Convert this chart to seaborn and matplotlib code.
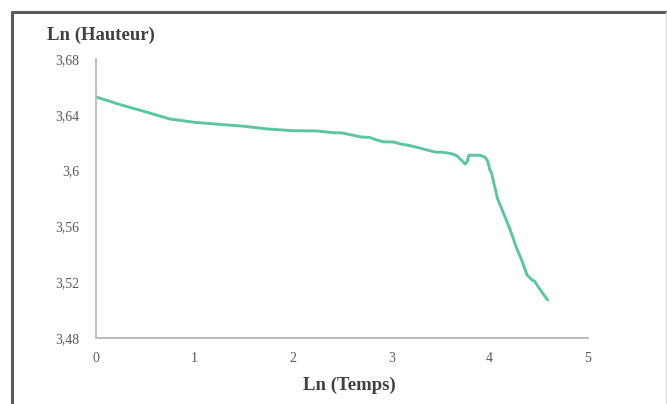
import matplotlib
matplotlib.use("Agg")
import matplotlib.pyplot as plt
import pandas as pd
import seaborn as sns
from matplotlib.lines import Line2D

# values
ln_temps = [0.0, 0.25, 0.5, 0.75, 1.0, 1.25, 1.5, 1.75, 2.0, 2.25, 2.3, 2.4, 2.5,
            2.6, 2.7, 2.78, 2.85, 2.92, 3.02, 3.1, 3.19, 3.3, 3.39, 3.46, 3.5,
            3.57, 3.62, 3.67, 3.72, 3.75, 3.77, 3.79, 3.85, 3.9, 3.95, 3.98,
            4.0, 4.02, 4.05, 4.08, 4.14, 4.21, 4.27, 4.33, 4.38, 4.43, 4.46,
            4.5, 4.55, 4.59]
ln_hauteur = [3.6528, 3.6472, 3.6422, 3.6370, 3.6346, 3.6332, 3.6318, 3.6298,
              3.6286, 3.6284, 3.6280, 3.6272, 3.6270, 3.6255, 3.6240, 3.6238,
              3.6220, 3.6206, 3.6205, 3.6190, 3.6179, 3.6160, 3.6143, 3.6131,
              3.6133, 3.6126, 3.6120, 3.6105, 3.6070, 3.6047, 3.6060, 3.6110,
              3.6110, 3.6110, 3.6098, 3.6070, 3.6010, 3.5980, 3.5890, 3.5800,
              3.5696, 3.5574, 3.5452, 3.5350, 3.5252, 3.5216, 3.5205, 3.5160,
              3.5110, 3.5072]

y_ticks = [3.48, 3.52, 3.56, 3.6, 3.64, 3.68]
y_tick_labels = ["3,48", "3,52", "3,56", "3,6", "3,64", "3,68"]
x_ticks = [0, 1, 2, 3, 4, 5]

df = pd.DataFrame({"Ln (Temps)": ln_temps, "Ln (Hauteur)": ln_hauteur})

sns.set_style("white")
plt.rcParams["font.family"] = ["Liberation Serif", "DejaVu Serif"]

fig = plt.figure(figsize=(6.67, 4.04), dpi=100)
ax = fig.add_axes([0.1439, 0.1634, 0.7377, 0.6906])

sns.lineplot(data=df, x="Ln (Temps)", y="Ln (Hauteur)", ax=ax,
             color="#5cc6a0", linewidth=2.1, estimator=None)

ax.set_xlim(0, 5)
ax.set_ylim(3.48, 3.68)
ax.set_xticks(x_ticks)
ax.set_xticklabels([str(t) for t in x_ticks])
ax.set_yticks(y_ticks)
ax.set_yticklabels(y_tick_labels)
ax.tick_params(axis="both", direction="out", length=4, width=1,
               color="#bfbfbf", labelcolor="#595959", labelsize=10)
ax.tick_params(axis="y", pad=8)
ax.tick_params(axis="x", pad=6)

for side in ["top", "right"]:
    ax.spines[side].set_visible(False)
for side in ["left", "bottom"]:
    ax.spines[side].set_color("#bfbfbf")
    ax.spines[side].set_linewidth(1.5)

ax.set_xlabel("")
ax.set_ylabel("")
fig.text(0.524, 0.047, "Ln (Temps)", ha="center", va="center",
         fontsize=13.5, fontweight="bold", color="#404040")
fig.text(0.070, 0.913, "Ln (Hauteur)", ha="left", va="center",
         fontsize=13.5, fontweight="bold", color="#404040")

# frame around the chart
fig.add_artist(Line2D([0.018, 0.018], [0.0, 0.971], transform=fig.transFigure,
                      color="#595959", linewidth=2.2))
fig.add_artist(Line2D([0.018, 1.0], [0.971, 0.971], transform=fig.transFigure,
                      color="#595959", linewidth=2.2))
fig.add_artist(Line2D([0.9985, 0.9985], [0.0, 0.971], transform=fig.transFigure,
                      color="#d9d9d9", linewidth=1.0))

fig.savefig("out.png", dpi=100, facecolor="white")
